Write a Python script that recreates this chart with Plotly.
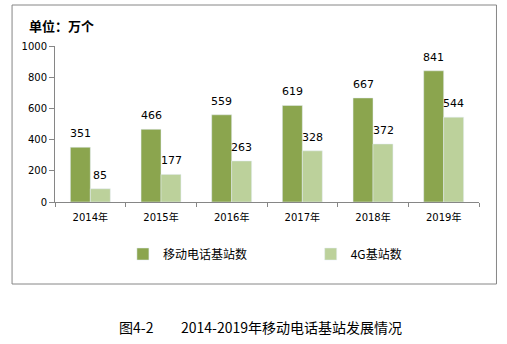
import plotly.graph_objects as go

years = ["2014年", "2015年", "2016年", "2017年", "2018年", "2019年"]
mobile = [351, 466, 559, 619, 667, 841]
g4 = [85, 177, 263, 328, 372, 544]
series_names = ["移动电话基站数", "4G基站数"]
y_ticks = [0, 200, 400, 600, 800, 1000]

DARK = "#8BA54E"
LIGHT = "#BCD19B"
FONT = "DejaVu Sans, Noto Sans CJK SC, sans-serif"
CJK = "Noto Sans CJK SC, sans-serif"

fig = go.Figure()
fig.add_trace(go.Bar(x=years, y=mobile, name=series_names[0], marker_color=DARK, legend="legend"))
fig.add_trace(go.Bar(x=years, y=g4, name=series_names[1], marker_color=LIGHT, legend="legend2"))

annotations = []
for vals, shift in ((mobile, -10), (g4, 10)):
    for x, v in zip(years, vals):
        annotations.append(dict(x=x, y=v, xref="x", yref="y", text=str(v), showarrow=False,
                                xshift=shift, yshift=5, yanchor="bottom",
                                font=dict(family=FONT, size=11, color="#000")))

annotations += [
    dict(xref="paper", yref="paper", x=(27 - 55) / 424.5, y=(202 - 25) / 156, xanchor="left", yanchor="middle",
         text="<b>单位：万个</b>", showarrow=False, font=dict(family=CJK, size=13, color="#000")),
    dict(xref="paper", yref="paper", x=(117 - 55) / 424.5, y=(202 - 327) / 156, xanchor="left", yanchor="middle",
         text="图4-2", showarrow=False, font=dict(family=CJK, size=14, color="#000")),
    dict(xref="paper", yref="paper", x=(179 - 55) / 424.5, y=(202 - 327) / 156, xanchor="left", yanchor="middle",
         text="2014-2019年移动电话基站发展情况", showarrow=False, font=dict(family=CJK, size=14, color="#000")),
]

leg_common = dict(orientation="h", xanchor="left", yanchor="middle", y=(202 - 254) / 156,
                  font=dict(family=CJK, size=12, color="#000"), bgcolor="rgba(0,0,0,0)")

fig.update_layout(
    width=507, height=344,
    margin=dict(l=55, r=27.5, t=46, b=142, pad=0),
    paper_bgcolor="white", plot_bgcolor="white",
    barmode="group", bargap=0.435, bargroupgap=0,
    showlegend=True,
    legend=dict(x=(123 - 55) / 424.5, **leg_common),
    legend2=dict(x=(311 - 55) / 424.5, **leg_common),
    annotations=annotations,
    shapes=[dict(type="rect", xref="paper", yref="paper",
                 x0=(12 - 55) / 424.5, x1=(497 - 55) / 424.5,
                 y0=(202 - 284) / 156, y1=(202 - 5) / 156,
                 line=dict(color="#868686", width=1), fillcolor="rgba(0,0,0,0)", layer="below")],
    xaxis=dict(showline=True, linecolor="#868686", linewidth=1, ticks="outside", tickson="boundaries",
               ticklen=4, tickcolor="#868686", showgrid=False, ticklabelstandoff=6,
               tickfont=dict(family=FONT, size=10, color="#000")),
    yaxis=dict(range=[0, 1000], tickvals=y_ticks, showline=True, linecolor="#868686", linewidth=1,
               ticks="outside", ticklen=5, tickcolor="#868686", showgrid=False, zeroline=False,
               tickfont=dict(family=FONT, size=10, color="#000")),
)

fig.write_html("out.html")
